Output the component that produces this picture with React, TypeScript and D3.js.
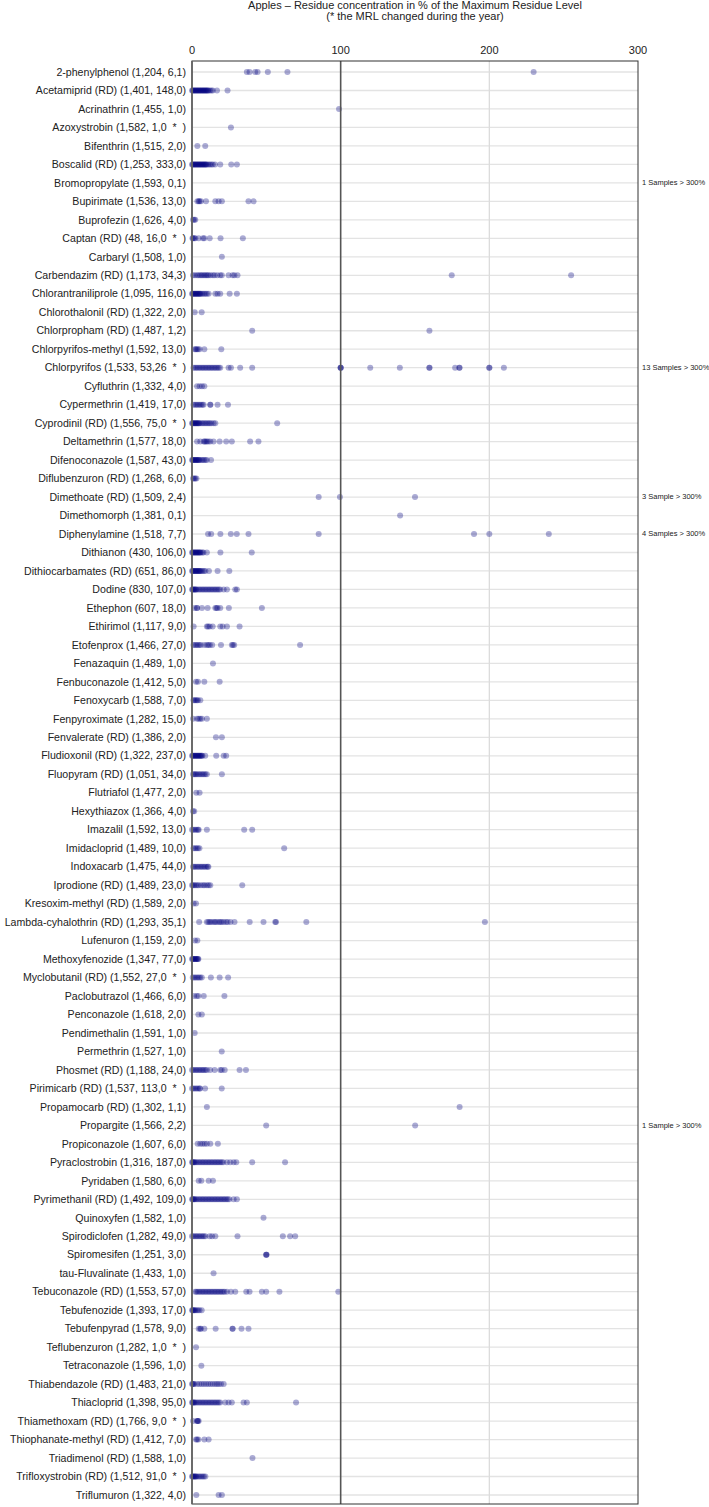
import React from 'react';
import * as d3 from 'd3';

// Row labels: name (analysed samples, quantified samples, samples above MRL)
const pesticides = [
  '2-phenylphenol (1,204, 6,1)',
  'Acetamiprid (RD) (1,401, 148,0)',
  'Acrinathrin (1,455, 1,0)',
  'Azoxystrobin (1,582, 1,0  *  )',
  'Bifenthrin (1,515, 2,0)',
  'Boscalid (RD) (1,253, 333,0)',
  'Bromopropylate (1,593, 0,1)',
  'Bupirimate (1,536, 13,0)',
  'Buprofezin (1,626, 4,0)',
  'Captan (RD) (48, 16,0  *  )',
  'Carbaryl (1,508, 1,0)',
  'Carbendazim (RD) (1,173, 34,3)',
  'Chlorantraniliprole (1,095, 116,0)',
  'Chlorothalonil (RD) (1,322, 2,0)',
  'Chlorpropham (RD) (1,487, 1,2)',
  'Chlorpyrifos-methyl (1,592, 13,0)',
  'Chlorpyrifos (1,533, 53,26  *  )',
  'Cyfluthrin (1,332, 4,0)',
  'Cypermethrin (1,419, 17,0)',
  'Cyprodinil (RD) (1,556, 75,0  *  )',
  'Deltamethrin (1,577, 18,0)',
  'Difenoconazole (1,587, 43,0)',
  'Diflubenzuron (RD) (1,268, 6,0)',
  'Dimethoate (RD) (1,509, 2,4)',
  'Dimethomorph (1,381, 0,1)',
  'Diphenylamine (1,518, 7,7)',
  'Dithianon (430, 106,0)',
  'Dithiocarbamates (RD) (651, 86,0)',
  'Dodine (830, 107,0)',
  'Ethephon (607, 18,0)',
  'Ethirimol (1,117, 9,0)',
  'Etofenprox (1,466, 27,0)',
  'Fenazaquin (1,489, 1,0)',
  'Fenbuconazole (1,412, 5,0)',
  'Fenoxycarb (1,588, 7,0)',
  'Fenpyroximate (1,282, 15,0)',
  'Fenvalerate (RD) (1,386, 2,0)',
  'Fludioxonil (RD) (1,322, 237,0)',
  'Fluopyram (RD) (1,051, 34,0)',
  'Flutriafol (1,477, 2,0)',
  'Hexythiazox (1,366, 4,0)',
  'Imazalil (1,592, 13,0)',
  'Imidacloprid (1,489, 10,0)',
  'Indoxacarb (1,475, 44,0)',
  'Iprodione (RD) (1,489, 23,0)',
  'Kresoxim-methyl (RD) (1,589, 2,0)',
  'Lambda-cyhalothrin (RD) (1,293, 35,1)',
  'Lufenuron (1,159, 2,0)',
  'Methoxyfenozide (1,347, 77,0)',
  'Myclobutanil (RD) (1,552, 27,0  *  )',
  'Paclobutrazol (1,466, 6,0)',
  'Penconazole (1,618, 2,0)',
  'Pendimethalin (1,591, 1,0)',
  'Permethrin (1,527, 1,0)',
  'Phosmet (RD) (1,188, 24,0)',
  'Pirimicarb (RD) (1,537, 113,0  *  )',
  'Propamocarb (RD) (1,302, 1,1)',
  'Propargite (1,566, 2,2)',
  'Propiconazole (1,607, 6,0)',
  'Pyraclostrobin (1,316, 187,0)',
  'Pyridaben (1,580, 6,0)',
  'Pyrimethanil (RD) (1,492, 109,0)',
  'Quinoxyfen (1,582, 1,0)',
  'Spirodiclofen (1,282, 49,0)',
  'Spiromesifen (1,251, 3,0)',
  'tau-Fluvalinate (1,433, 1,0)',
  'Tebuconazole (RD) (1,553, 57,0)',
  'Tebufenozide (1,393, 17,0)',
  'Tebufenpyrad (1,578, 9,0)',
  'Teflubenzuron (1,282, 1,0  *  )',
  'Tetraconazole (1,596, 1,0)',
  'Thiabendazole (RD) (1,483, 21,0)',
  'Thiacloprid (1,398, 95,0)',
  'Thiamethoxam (RD) (1,766, 9,0  *  )',
  'Thiophanate-methyl (RD) (1,412, 7,0)',
  'Triadimenol (RD) (1,588, 1,0)',
  'Trifloxystrobin (RD) (1,512, 91,0  *  )',
  'Triflumuron (1,322, 4,0)',
];

// residue concentrations in % of MRL, one list per row
const residues: number[][] = [
  [36.9, 38.7, 42.5, 44.1, 51, 64.2, 229.8],
  [0, 0.5, 1, 1.5, 2, 2.5, 3, 3.5, 4, 4.5, 5, 5.5, 6, 6.5, 7, 7.5, 8, 8.5, 9, 9.5, 10, 10.5, 11, 12, 13, 14, 16.8, 23.9],
  [98.9],
  [26.2],
  [3.6, 8.9],
  [0, 0.5, 1, 1.5, 2, 2.5, 3, 3.5, 4, 4.5, 5, 5.5, 6, 6.5, 7, 7.5, 8, 8.5, 9, 9.5, 10, 11, 12, 13, 14, 15.5, 19, 26.4, 30.2],
  [],
  [3.6, 4.5, 5.1, 6, 9.4, 15.7, 17.9, 20.1, 38, 41.4],
  [0.7, 1.5, 2.2],
  [0.3, 0.7, 1.5, 2.2, 4.5, 7.4, 8.3, 11.9, 19.2, 34.2],
  [20.1],
  [0.7, 2, 3.4, 4.5, 5.6, 6.5, 7.5, 8.5, 9.4, 10.3, 11.2, 12.5, 14.1, 15.2, 17, 19, 20.1, 24.6, 27.3, 28.5, 30.6, 174.7, 255],
  [0, 0.5, 1, 1.5, 2, 2.5, 3, 3.5, 4, 4.5, 5, 5.5, 6, 7, 8, 9, 10, 11.2, 15.7, 17.2, 19, 25.3, 30.2],
  [1.8, 6.5],
  [40.5, 159.7],
  [1.8, 2.5, 3.2, 4, 5.1, 8.3, 19.7],
  [1, 2, 3, 4, 5, 6, 7, 8, 9, 10, 11, 12, 13, 14, 15, 16, 17, 18, 19, 24.6, 26.2, 32.4, 40.5, 100, 100, 100, 119.9, 139.8, 159.7, 159.7, 177, 179.9, 179.9, 200, 200, 209.8],
  [3.4, 5.1, 6.7, 8.3],
  [1, 2, 3, 4, 5, 6, 7, 7.8, 12.3, 12.3, 17.2, 24.2],
  [0, 0.5, 1, 1.5, 2, 2.5, 3, 3.5, 4, 4.5, 5, 6, 7, 8, 9, 10, 11, 12, 13, 14.5, 15.7, 57.3],
  [3.4, 5.6, 7.8, 8.5, 9.2, 10, 11, 12.3, 14.5, 18.6, 23, 26.8, 39.1, 44.7],
  [0, 0.5, 1, 1.5, 2, 2.5, 3, 3.5, 4, 4.5, 5, 6, 7, 8, 9, 10, 12.8],
  [0.7, 1.5, 2.2, 3],
  [85.2, 99.5, 150],
  [140],
  [10.8, 12.9, 19.1, 26.1, 30.1, 38, 85.2, 189.7, 200, 240],
  [0, 0.5, 1, 1.5, 2, 2.5, 3, 3.5, 4, 4.5, 5, 5.5, 6, 7, 7.7, 10, 19.1, 40.2],
  [0, 0.5, 1, 1.5, 2, 2.5, 3, 3.5, 4, 4.5, 5, 5.5, 6, 7, 8, 9, 11.4, 17.2, 25.1],
  [0, 0.5, 1, 1.5, 2, 2.5, 3, 4, 5, 6, 7, 8, 9, 10, 11, 12, 13, 14, 15, 16, 17, 18, 19, 21.3, 23.5, 29.1, 30.2],
  [1.8, 3.4, 3.4, 6.7, 10.5, 15.7, 16.5, 17.2, 19, 24.8, 47],
  [1.1, 10, 10.8, 11.9, 13.9, 19, 20.6, 23.5, 32],
  [1, 2, 3, 4, 5, 6, 8.3, 10, 11, 12, 13.6, 19.5, 26.8, 27.5, 28.4, 72.7],
  [14.1],
  [2.7, 4, 8.3, 18.6],
  [1, 1.7, 2.5, 3.3, 4, 5.6],
  [0.7, 3.4, 4.5, 5.6, 6.7, 10],
  [16.1, 20.1],
  [0, 0.5, 1, 1.5, 2, 2.5, 3, 3.5, 4, 4.5, 5, 5.5, 6, 6.5, 7, 8.9, 16.3, 21.3, 23],
  [0.7, 1.5, 2.2, 3, 4, 5, 6, 7, 8, 9, 10, 20.1],
  [2.9, 5.1],
  [0.7, 1.5],
  [0, 1, 2, 3, 4, 4.5, 10, 35.1, 40.5],
  [1, 2, 3, 4, 5, 62],
  [0.7, 1.5, 2.5, 3.5, 4.5, 5.5, 6.5, 7.5, 8.5, 9.5, 10.5, 11],
  [0, 0.7, 1.5, 2.5, 3.5, 4.5, 6, 7.5, 8.5, 10, 11.2, 12.3, 33.8],
  [1.1, 2.7],
  [4.8, 10, 11, 12, 13, 14.5, 15.5, 16.5, 18, 19, 20, 21.3, 22.9, 24, 25.9, 28.6, 38.8, 48.1, 56, 56.5, 76.9, 197],
  [2, 3.6],
  [0, 0.5, 1, 1.5, 2, 2.5, 3, 3.5, 4, 4.3],
  [0.5, 1.5, 2.5, 3.5, 4.5, 5.5, 6.6, 12.7, 18.6, 24.3],
  [1.4, 3.2, 4.3, 7.9, 21.8],
  [4.3, 6.6],
  [1.8],
  [20],
  [0, 1, 2, 3, 4, 5, 6, 7, 8, 9, 10, 12.2, 15.2, 19, 20, 22, 32, 36.3],
  [0, 1, 2, 3, 4, 5, 5.5, 8.8, 20],
  [10, 180],
  [49.9, 150.1],
  [3.8, 5.6, 7, 8.5, 10, 12.3, 17.4],
  [0, 0.5, 1, 1.5, 2, 3, 4, 5, 6, 7, 8, 9, 10, 11, 12, 13, 14, 15, 16, 17, 18, 19, 20, 21, 23.5, 25.7, 28, 29.8, 40.5, 62.6],
  [4.5, 6.3, 11.2, 14.1],
  [0, 0.5, 1, 1.5, 2, 3, 4, 5, 6, 7, 8, 9, 10, 11, 12, 13, 14, 15, 16, 17, 18, 19, 20, 21, 22, 23, 24, 25, 28, 30.2],
  [48.1],
  [0, 1, 2, 3, 4, 5, 6, 7, 8, 9, 11.9, 13.5, 15.7, 30.6, 61.1, 66, 69.4],
  [49.9, 49.9, 50.2],
  [14.5],
  [2.2, 3, 4, 5, 6, 7, 8, 9, 10, 11, 12, 13, 14, 15, 16, 17, 18, 19, 20, 21, 22, 23.5, 26.2, 29.1, 36.5, 38.7, 47, 49.9, 58.8, 98.4],
  [0, 0.5, 1, 1.5, 2, 3, 4, 5, 6.5],
  [4.5, 5.5, 6, 8.3, 15.9, 27.3, 27.3, 33.3, 38],
  [2.7],
  [6.3],
  [0, 0.5, 1, 1.5, 3.4, 5, 6.5, 8, 9.5, 11, 12.5, 14, 15.5, 16.8, 18, 19.5, 21.3],
  [0, 0.5, 1, 1.5, 2, 3, 4, 5, 6, 7, 8, 9, 10, 11, 12, 13, 14, 15, 16, 17, 18, 19, 22.4, 24.6, 26.8, 34.7, 36.9, 70],
  [0.7, 3.4, 3.6, 4, 4.5],
  [2.7, 3.4, 4.3, 8.3, 11.2],
  [40.7],
  [0, 0.5, 1, 1.5, 2, 2.5, 3, 4, 5, 6, 7, 8, 9],
  [2.9, 17.9, 20.1],
];

// notes printed right of the plot for samples beyond the axis
const noteRows = [
  'Bromopropylate (1,593, 0,1)',
  'Chlorpyrifos (1,533, 53,26  *  )',
  'Dimethoate (RD) (1,509, 2,4)',
  'Diphenylamine (1,518, 7,7)',
  'Propargite (1,566, 2,2)',
];
const noteTexts = ['1 Samples > 300%', '13 Samples > 300%', '3 Sample > 300%', '4 Samples > 300%', '1 Sample > 300%'];

const xTicks = [0, 100, 200, 300];

const width = 709;
const height = 1507;
const left = 192;
const right = 638;
const top = 61;
const bottom = 1504;
const font = '"Liberation Sans", Arial, sans-serif';

export default function App() {
  const x = d3.scaleLinear().domain([0, 300]).range([left, right]);
  const y = d3.scalePoint<string>().domain(pesticides).range([72, 1495]);

  return (
    <svg width={width} height={height} style={{ position: 'absolute', left: 0, top: 0, background: '#fff' }} fontFamily={font}>
      {/* title */}
      <text x={(left + right) / 2} y={9} textAnchor="middle" fontSize={11} fill="#222">
        Apples – Residue concentration in % of the Maximum Residue Level
      </text>
      <text x={(left + right) / 2} y={20} textAnchor="middle" fontSize={11} fill="#222">
        (* the MRL changed during the year)
      </text>

      {/* x tick labels */}
      {xTicks.map(t => (
        <text key={t} x={x(t)} y={54} textAnchor="middle" fontSize={11} fill="#222">{t}</text>
      ))}

      {/* row grid lines */}
      {pesticides.map(p => (
        <line key={p} x1={left} x2={right} y1={y(p)} y2={y(p)} stroke="#e3e3e3" strokeWidth={1.3} />
      ))}
      <line x1={x(200)} x2={x(200)} y1={top} y2={bottom} stroke="#dcdcdc" strokeWidth={1.3} />

      {/* dots */}
      {pesticides.map((p, i) =>
        residues[i].map((v, j) => (
          <circle key={p + j} cx={x(v)} cy={y(p)} r={3} fill="#000080" fillOpacity={0.33} />
        ))
      )}

      {/* MRL line and frame */}
      <line x1={x(100)} x2={x(100)} y1={top} y2={bottom} stroke="#555" strokeWidth={1.6} />
      <rect x={left} y={top} width={right - left} height={bottom - top} fill="none" stroke="#333" strokeWidth={1} />
      <line x1={left} x2={left} y1={top} y2={bottom} stroke="#666" strokeWidth={1.8} />

      {/* row labels */}
      {pesticides.map(p => (
        <text key={p} x={186} y={y(p)} dy="0.35em" textAnchor="end" fontSize={10.6} fill="#222" style={{ whiteSpace: 'pre' }}>
          {p}
        </text>
      ))}

      {/* > 300% notes */}
      {noteRows.map((r, i) => (
        <text key={r} x={642} y={y(r)} dy="0.3em" fontSize={7.5} fill="#222">{noteTexts[i]}</text>
      ))}
    </svg>
  );
}
